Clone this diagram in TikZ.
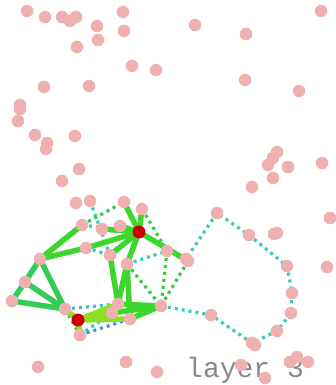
\documentclass[tikz,border=0pt]{standalone}
\usepackage{fontspec}
\usepackage{tikz}
\newfontfamily\layerfont{Liberation Mono}
\definecolor{NodePink}{HTML}{F0B0B0}
\definecolor{HubRed}{HTML}{CC0000}
\definecolor{EdgeGreen}{HTML}{3CD62C}
\definecolor{EdgeSea}{HTML}{33CC55}
\definecolor{EdgeLime}{HTML}{8EDE22}
\definecolor{DotTeal}{HTML}{33CCBB}
\definecolor{DotGreen}{HTML}{33CC44}
\definecolor{DotBlue}{HTML}{3399DD}
\definecolor{LabelGray}{HTML}{888888}

\begin{document}
\begin{tikzpicture}[x = 1pt, y = -1pt,
	vert/.style = {circle, fill = NodePink, inner sep = 0pt, minimum size = 12.5pt},
	hub/.style = {circle, fill = HubRed, inner sep = 0pt, minimum size = 13pt},
	solidedge/.style = {EdgeGreen, line width = 5.5pt},
	seaedge/.style = {EdgeSea, line width = 5.5pt},
	limeedge/.style = {EdgeLime, line width = 5.5pt},
	tealdots/.style = {DotTeal, line width = 3.2pt, dash pattern = on 3pt off 4pt},
	greendots/.style = {DotGreen, line width = 3.2pt, dash pattern = on 3pt off 4pt},
	bluedots/.style = {DotBlue, line width = 3.2pt, dash pattern = on 3pt off 4pt}]
	\path [use as bounding box, draw = none] (0, 0) rectangle (336, 385);

	\node [anchor = base west, text = LabelGray, inner sep = 0pt, font = \layerfont\fontsize{28}{28}\selectfont] (label) at (186, 377) {layer 3};

	\coordinate (a) at (139, 232);
	\coordinate (b) at (78, 320);
	\foreach \name/\x/\y in {n0/90/201, n1/124/202, n2/142/209, n3/102/229, n4/120/226, n5/82/225, n6/86/248,
		n7/40/259, n8/110/255, n9/127/264, n10/167/251, n11/186/259, n12/188/261, n13/25/282, n14/12/301,
		n15/65/309, n16/118/304, n17/112/313, n18/130/319, n19/161/306, n20/80/335, n21/211/315,
		r1/217/213, r2/249/235, r3/287/266, r4/292/293, r5/291/313, r6/277/331, r7/252/343, r8/255/345}
		\coordinate (\name) at (\x, \y);

	\draw [tealdots] (n19) -- (n21) -- (r8) -- (r7) -- (r6) -- (r5) -- (r4) -- (r3) -- (r2) -- (r1) -- (n11);
	\draw [tealdots] (n5) -- (a);
	\draw [tealdots] (n0) -- (n8);
	\draw [tealdots] (n6) -- (n8);
	\draw [tealdots] (n9) -- (n10);
	\draw [tealdots] (n15) -- (n16);
	\draw [tealdots] (n20) -- (n17);
	\draw [greendots] (n5) -- (n1);
	\draw [greendots] (n2) -- (n10);
	\draw [greendots] (n9) -- (n19);
	\draw [greendots] (n10) -- (n19);
	\draw [greendots] (n12) -- (n19);
	\draw [greendots] (n15) -- (n20);
	\draw [bluedots] (n20) -- (n18);

	\foreach \from/\to in {n7/n13, n7/n15, n13/n14, n13/n15, n14/n15}
		\draw [seaedge] (\from) -- (\to);
	\foreach \to in {n1, n2, n3, n4, n6, n8, n9, n12}
		\draw [solidedge] (a) -- (\to);
	\foreach \from/\to in {n7/n5, n7/n6, n8/n16, n9/n16, n9/n18, n16/n19, n17/n19, n18/n19}
		\draw [solidedge] (\from) -- (\to);
	\foreach \to in {n15, n16, n17, n18, n20}
		\draw [limeedge] (b) -- (\to);

	\foreach \name/\x/\y in {p1/27/11, p2/45/17, p3/62/17, p4/70/21, p5/76/17, p6/123/12, p7/97/26, p8/124/31,
		p9/98/40, p10/77/47, p11/195/25, p12/246/34, p13/321/11, p14/132/66, p15/156/70, p16/245/80,
		p17/299/91, p18/44/87, p19/89/86, p20/20/105, p21/20/109, p22/18/121, p23/35/135, p24/75/136,
		p25/47/143, p26/46/149, p27/277/152, p28/273/158, p29/268/165, p30/288/167, p31/322/163,
		p32/273/178, p33/79/169, p34/62/181, p35/252/187, p36/76/203, p37/274/234, p38/277/233,
		p39/330/218, p40/327/267, p41/38/367, p42/126/362, p43/157/372, p44/241/365, p45/265/378,
		p46/297/357, p47/290/362, p48/308/362}
		\node [vert] (\name) at (\x, \y) {};
	\foreach \name in {n0, n1, n2, n3, n4, n5, n6, n7, n8, n9, n10, n11, n12, n13, n14, n15, n16, n17,
		n18, n19, n20, n21, r1, r2, r3, r4, r5, r6, r7, r8}
		\node [vert] (v\name) at (\name) {};
	\node [hub] (hubA) at (a) {};
	\node [hub] (hubB) at (b) {};
\end{tikzpicture}
\end{document}
